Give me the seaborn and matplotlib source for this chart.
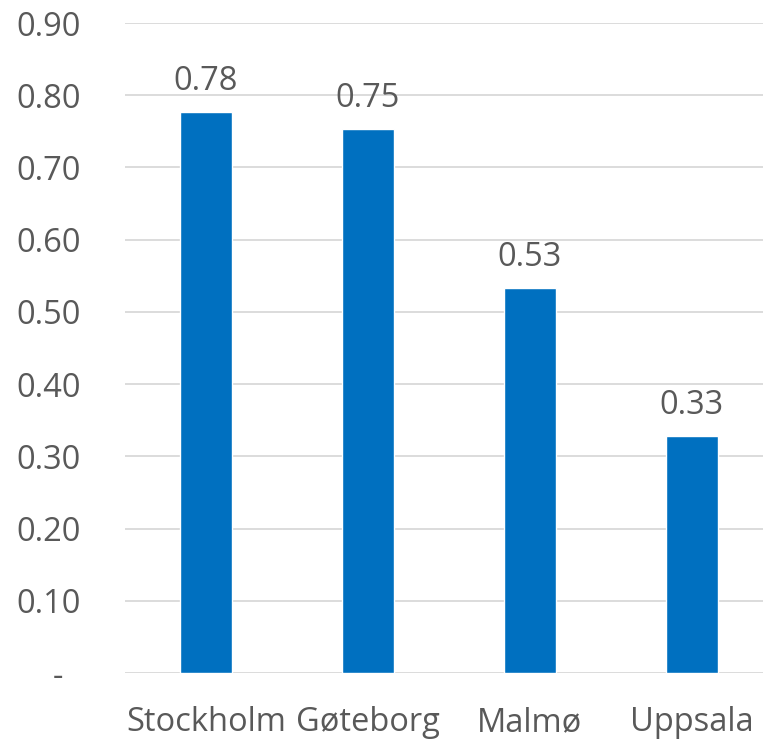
import matplotlib
matplotlib.use("Agg")
import matplotlib.pyplot as plt
import seaborn as sns
import pandas as pd

cities = ["Stockholm", "Gøteborg", "Malmø", "Uppsala"]
values = [0.777, 0.753, 0.533, 0.328]
yticks = [0.0, 0.1, 0.2, 0.3, 0.4, 0.5, 0.6, 0.7, 0.8, 0.9]

df = pd.DataFrame({"city": cities, "value": values})

sns.set_theme(style="white")
plt.rcParams["font.family"] = ["Open Sans", "DejaVu Sans"]
text_col = "#595959"

fig = plt.figure(figsize=(7.63, 7.40), dpi=100)
ax = fig.add_axes([0.1638, 0.0905, 0.8362, 0.8784])

sns.barplot(data=df, x="city", y="value", color="#0070C0", width=0.32,
            saturation=1, ax=ax, zorder=3)

ax.set_ylim(0, 0.9)
ax.set_xlim(-0.5, 3.44)
ax.set_yticks(yticks)
ax.set_yticklabels(["-  "] + [f"{t:.2f}" for t in yticks[1:]])
ax.yaxis.grid(True, color="#D9D9D9", linewidth=1.3, zorder=0)
ax.set_axisbelow(True)
for s in ax.spines.values():
    s.set_visible(False)

ax.tick_params(axis="y", length=0, pad=32, labelsize=23.5, labelcolor=text_col)
ax.tick_params(axis="x", length=0, pad=24, labelsize=23.5, labelcolor=text_col)
ax.set_xlabel("")
ax.set_ylabel("")

ax.bar_label(ax.containers[0], labels=[f"{v:.2f}" for v in values],
             padding=10, fontsize=23.5, color=text_col)

fig.savefig("out.png", dpi=100)
